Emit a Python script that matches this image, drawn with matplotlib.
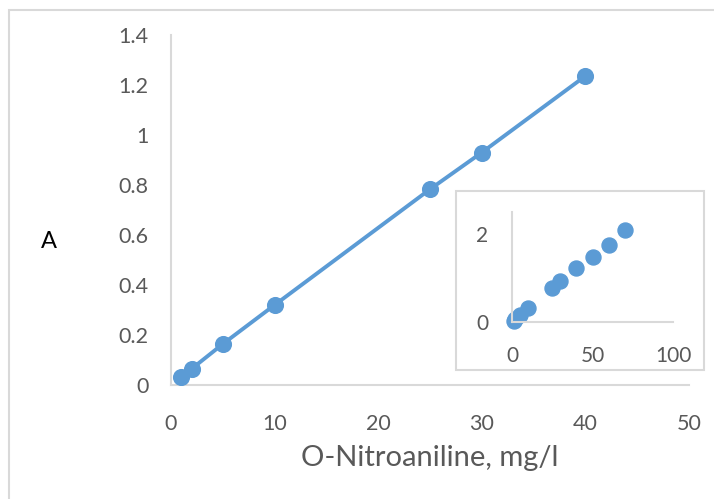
import matplotlib
matplotlib.use("Agg")
import matplotlib.pyplot as plt
from matplotlib.patches import Rectangle

# calibration points: concentration (mg/l) vs absorbance
conc = [1, 2, 5, 10, 25, 30, 40]
absorb = [0.032, 0.065, 0.164, 0.32, 0.783, 0.93, 1.236]

# extended range shown in the small panel
conc_ext = [1, 2, 5, 10, 25, 30, 40, 50, 60, 70]
absorb_ext = [0.032, 0.065, 0.164, 0.32, 0.783, 0.93, 1.236, 1.48, 1.75, 2.09]

main_xticks = [0, 10, 20, 30, 40, 50]
main_yticks = [0, 0.2, 0.4, 0.6, 0.8, 1.0, 1.2, 1.4]
main_ylabels = ["0", "0.2", "0.4", "0.6", "0.8", "1", "1.2", "1.4"]
inset_xticks = [0, 50, 100]
inset_yticks = [0, 2]

BLUE = "#5B9BD5"
GRID = "#D9D9D9"
TXT = "#595959"

plt.rcParams["font.family"] = ["Lato", "DejaVu Sans"]

W, H = 714, 499
fig = plt.figure(figsize=(W / 100, H / 100), dpi=100)

# chart-area border
fig.patches.append(Rectangle((9 / W, -0.05), 1.2, 1 - 10 / H + 0.05,
                             transform=fig.transFigure, fill=False,
                             edgecolor=GRID, lw=1.5))

ax = fig.add_axes([171 / W, 1 - 385 / H, (689 - 171) / W, 350 / H])
ax.plot(conc, absorb, color=BLUE, lw=2.8, marker="o", ms=11.3,
        solid_capstyle="round", zorder=3)
ax.set_xlim(0, 50)
ax.set_ylim(0, 1.4)
ax.set_xticks(main_xticks)
ax.set_yticks(main_yticks)
ax.set_yticklabels(main_ylabels)
for s in ["top", "right"]:
    ax.spines[s].set_visible(False)
for s in ["left", "bottom"]:
    ax.spines[s].set_color(GRID)
    ax.spines[s].set_linewidth(1.5)
ax.tick_params(length=0, labelsize=15.5, labelcolor=TXT)
ax.tick_params(axis="y", pad=16)
ax.tick_params(axis="x", pad=21)
ax.set_xlabel("O-Nitroaniline, mg/l", fontsize=21, color=TXT, labelpad=8)
fig.text(49 / W, 1 - 242 / H, "A", fontsize=17, color="black",
         ha="center", va="center")

# inset panel with frame
fig.patches.append(Rectangle((456 / W, 1 - 370 / H), (704 - 456) / W, (370 - 191) / H,
                             transform=fig.transFigure, fill=True, facecolor="white",
                             edgecolor=GRID, lw=1.5, zorder=4))
ins = fig.add_axes([512 / W, 1 - 322 / H, (673 - 512) / W, 110 / H], zorder=5)
ins.set_facecolor("none")
ins.plot(conc_ext, absorb_ext, ls="none", marker="o", ms=10.8, color=BLUE,
         clip_on=False)
ins.set_xlim(0, 100)
ins.set_ylim(0, 2.5)
ins.set_xticks(inset_xticks)
ins.set_yticks(inset_yticks)
for s in ["top", "right"]:
    ins.spines[s].set_visible(False)
for s in ["left", "bottom"]:
    ins.spines[s].set_color(GRID)
    ins.spines[s].set_linewidth(1.5)
ins.tick_params(length=0, labelsize=15, labelcolor=TXT)
ins.tick_params(axis="y", pad=17)
ins.tick_params(axis="x", pad=17)

fig.savefig("out.png", dpi=100)
